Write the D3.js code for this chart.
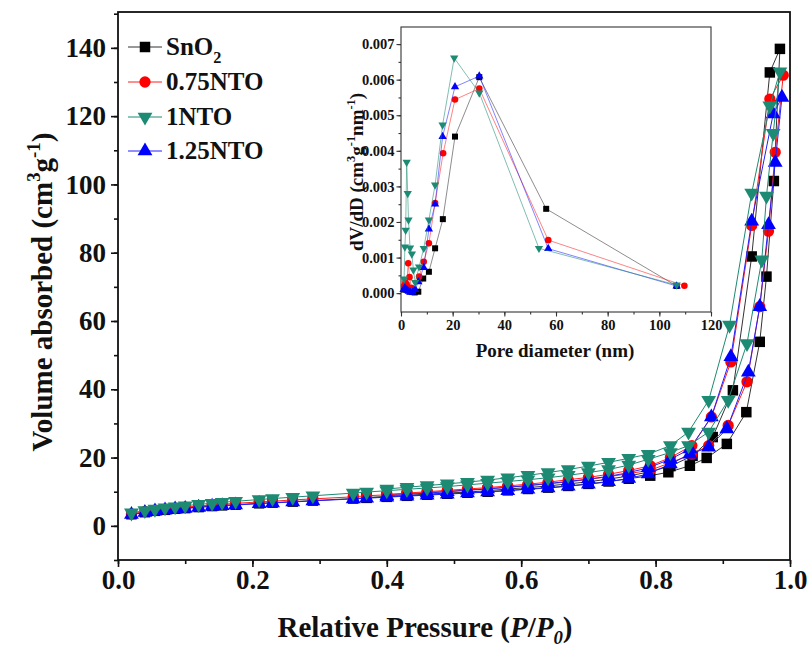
<!DOCTYPE html>
<html>
<head>
<meta charset="utf-8">
<script src="https://cdn.jsdelivr.net/npm/d3@7"></script>
<style>
body { margin: 0; background: #fff; }
svg { display: block; }
text { font-family: "Liberation Serif", "Times New Roman", serif; font-weight: bold; fill: #111; }
</style>
</head>
<body>
<svg id="chart"></svg>
<script>
// ---------------- data: N2 isotherms (P/P0, cm3/g) ----------------
// adsorption pressures shared below 0.79
const lowP = [0.02, 0.04, 0.055, 0.07, 0.085, 0.10, 0.12, 0.14, 0.155, 0.175, 0.21, 0.23, 0.26, 0.29,
  0.35, 0.37, 0.40, 0.43, 0.46, 0.49, 0.52, 0.55, 0.58, 0.61, 0.64, 0.67, 0.70, 0.73, 0.76];

const sno2AdsP = lowP.concat([0.792, 0.819, 0.851, 0.876, 0.906, 0.935, 0.955, 0.965, 0.976, 0.985]);
const sno2AdsV = [3.4, 4.0, 4.4, 4.7, 5.0, 5.2, 5.5, 5.8, 6.0, 6.2, 6.6, 6.8, 7.1, 7.4, 8.0, 8.2, 8.5, 8.8, 9.1, 9.4,
  9.7, 10.0, 10.4, 10.8, 11.2, 11.7, 12.3, 13.0, 13.8, 14.7, 15.7, 17.6, 19.9, 24.0, 33.3, 53.9, 73.0, 101.0, 139.7];
const sno2DesP = [0.970, 0.943, 0.915, 0.885, 0.855, 0.822, 0.79, 0.76, 0.73, 0.70, 0.67, 0.64, 0.61, 0.58, 0.55, 0.52, 0.49, 0.46, 0.43, 0.40, 0.37];
const sno2DesV = [132.8, 78.9, 39.7, 26.0, 20.5, 17.5, 15.8, 14.6, 13.7, 12.9, 12.3, 11.7, 11.2, 10.8, 10.3, 9.9, 9.6, 9.3, 8.9, 8.6, 8.3];

const nto075AdsP = lowP.concat([0.792, 0.822, 0.854, 0.879, 0.908, 0.936, 0.955, 0.968, 0.978, 0.990]);
const nto075AdsV = [3.5, 4.2, 4.6, 4.9, 5.2, 5.5, 5.8, 6.1, 6.3, 6.6, 7.0, 7.2, 7.6, 7.9, 8.5, 8.8, 9.1, 9.4, 9.8, 10.1,
  10.5, 10.9, 11.3, 11.8, 12.3, 12.9, 13.6, 14.4, 15.3, 16.3, 18.5, 21.0, 23.5, 29.4, 42.2, 64.2, 86.3, 109.4, 132.0];
const nto075DesP = [0.970, 0.943, 0.912, 0.883, 0.854, 0.822, 0.792, 0.76, 0.73, 0.70, 0.67, 0.64, 0.61, 0.58, 0.55, 0.52, 0.49, 0.46, 0.43, 0.40];
const nto075DesV = [125.0, 88.0, 48.0, 31.9, 23.5, 20.0, 17.6, 16.2, 15.1, 14.2, 13.5, 12.8, 12.2, 11.7, 11.2, 10.8, 10.4, 10.0, 9.6, 9.2];

const nto1AdsP = lowP.concat([0.789, 0.822, 0.849, 0.879, 0.908, 0.936, 0.958, 0.965, 0.975, 0.985]);
const nto1AdsV = [3.8, 4.5, 4.9, 5.3, 5.6, 5.9, 6.3, 6.6, 6.9, 7.2, 7.7, 8.0, 8.4, 8.8, 9.6, 9.9, 10.3, 10.7, 11.1, 11.5,
  12.0, 12.5, 13.0, 13.5, 14.1, 14.8, 15.6, 16.5, 17.8, 19.5, 21.5, 23.5, 27.5, 36.8, 53.4, 77.9, 96.6, 115.0, 133.0];
const nto1DesP = [0.970, 0.943, 0.910, 0.879, 0.849, 0.822, 0.789, 0.76, 0.73, 0.70, 0.67, 0.64, 0.61, 0.58, 0.55, 0.52, 0.49, 0.46, 0.43, 0.40];
const nto1DesV = [123.0, 97.5, 58.8, 36.8, 27.5, 23.5, 21.0, 19.8, 18.6, 17.5, 16.5, 15.6, 14.8, 14.1, 13.4, 12.8, 12.3, 11.8, 11.3, 10.8];

const nto125AdsP = lowP.concat([0.789, 0.822, 0.851, 0.879, 0.906, 0.938, 0.955, 0.968, 0.978, 0.988]);
const nto125AdsV = [3.3, 3.9, 4.3, 4.6, 4.9, 5.1, 5.4, 5.7, 5.9, 6.1, 6.5, 6.7, 7.0, 7.3, 7.9, 8.1, 8.4, 8.7, 9.0, 9.3,
  9.6, 9.9, 10.3, 10.7, 11.1, 11.6, 12.2, 12.9, 13.9, 15.2, 18.1, 21.0, 23.0, 28.4, 45.0, 64.2, 88.2, 106.4, 125.5];
const nto125DesP = [0.975, 0.943, 0.912, 0.883, 0.851, 0.822, 0.789, 0.76, 0.73, 0.70, 0.67, 0.64, 0.61, 0.58, 0.55, 0.52, 0.49, 0.46, 0.43, 0.40];
const nto125DesV = [120.6, 89.2, 49.5, 31.9, 22.5, 19.5, 17.0, 15.6, 14.5, 13.7, 13.0, 12.4, 11.8, 11.3, 10.8, 10.4, 10.0, 9.6, 9.2, 8.8];

// ---------------- data: pore size distribution (nm, cm3 g-1 nm-1) ----------------
const sno2D = [1.2, 1.7, 2.2, 2.8, 3.5, 4.3, 5.3, 6.7, 8.6, 10.8, 13.2, 16.2, 20.9, 30.3, 56.2, 106.7];
const sno2dV = [0.0001, 0.00015, 0.0001, 0.00008, 0.00005, 0.00003, 0.00002, 0.00004, 0.00041, 0.0006, 0.00126, 0.00208, 0.0044, 0.00607, 0.00237, 0.0002];
const nto075D = [1.2, 1.7, 2.2, 2.8, 3.3, 4.0, 5.0, 7.0, 8.8, 10.8, 13.2, 16.3, 20.9, 30.3, 57.0, 109.7];
const nto075dV = [0.0002, 0.0003, 0.00025, 0.00084, 0.00045, 0.00015, 0.0001, 0.00047, 0.00088, 0.0014, 0.00253, 0.00393, 0.00544, 0.00575, 0.00149, 0.00021];
const nto1D = [1.2, 1.5, 1.8, 2.2, 2.6, 2.9, 3.5, 4.2, 4.8, 5.5, 7.0, 8.8, 10.8, 13.2, 16.1, 20.6, 30.3, 53.4, 106.7];
const nto1dV = [0.0004, 0.0013, 0.00177, 0.00368, 0.0028, 0.00206, 0.00127, 0.0011, 0.00065, 0.0003, 0.00074, 0.00126, 0.00206, 0.00304, 0.00473, 0.00661, 0.00563, 0.00126, 0.00023];
const nto125D = [1.0, 1.5, 2.0, 2.5, 3.0, 3.6, 4.5, 5.5, 6.7, 8.8, 10.8, 13.2, 16.1, 20.9, 30.3, 57.0, 106.7];
const nto125dV = [0.0001, 0.00015, 0.0001, 0.00008, 0.00005, 0.00002, 0.00003, 0.0001, 0.00032, 0.00072, 0.0018, 0.0025, 0.0044, 0.0058, 0.0061, 0.00125, 0.0002];

const mainYTicks = [0, 20, 40, 60, 80, 100, 120, 140];
const mainXTicks = [0, 0.2, 0.4, 0.6, 0.8, 1.0];
const insetYTicks = [0, 0.001, 0.002, 0.003, 0.004, 0.005, 0.006, 0.007];
const insetXTicks = [0, 20, 40, 60, 80, 100, 120];

// ---------------------------------------------------------------
const width = 807;
const height = 648;
const svg = d3.select('#chart').attr('width', width).attr('height', height);

const teal = '#1d8a73';
const series = [
  { label: [['SnO', ''], ['2', 'sub']], color: '#000', line: '#333', sym: d3.symbolSquare, rot: 0, size: 110, isize: 36,
    P: sno2AdsP.concat(sno2DesP), V: sno2AdsV.concat(sno2DesV), D: sno2D, dV: sno2dV },
  { label: [['0.75NTO', '']], color: '#ff0000', line: '#ff2020', sym: d3.symbolCircle, rot: 0, size: 100, isize: 34,
    P: nto075AdsP.concat(nto075DesP), V: nto075AdsV.concat(nto075DesV), D: nto075D, dV: nto075dV },
  { label: [['1NTO', '']], color: teal, line: teal, sym: d3.symbolTriangle, rot: 180, size: 95, isize: 30,
    P: nto1AdsP.concat(nto1DesP), V: nto1AdsV.concat(nto1DesV), D: nto1D, dV: nto1dV },
  { label: [['1.25NTO', '']], color: '#0000ff', line: '#2020ff', sym: d3.symbolTriangle, rot: 0, size: 95, isize: 30,
    P: nto125AdsP.concat(nto125DesP), V: nto125AdsV.concat(nto125DesV), D: nto125D, dV: nto125dV }
];
// draw order: black, red, blue, teal
const drawOrder = [0, 1, 3, 2];

// text with sub / superscripts
function richText(t, parts, size, subShift) {
  let shift = 0;
  parts.forEach(function(p) {
    const kind = p[1];
    const ts = t.append('tspan').text(p[0]);
    let target = 0;
    if (kind === 'sup') target = -0.42 * size;
    if (kind === 'sub' || kind === 'isub') target = (subShift || 0.32) * size;
    ts.attr('dy', target - shift);
    shift = target;
    if (kind === 'sup' || kind === 'sub' || kind === 'isub') ts.attr('font-size', size * 0.65);
    if (kind === 'i' || kind === 'isub') ts.attr('font-style', 'italic');
  });
}

function styleAxis(g, size, color, width) {
  g.select('.domain').remove();
  g.selectAll('line').attr('stroke', color).attr('stroke-width', width);
  g.selectAll('text').attr('font-size', size).attr('fill', '#111')
    .style('font-family', '"Liberation Serif", serif').style('font-weight', 'bold');
}

// ---------------------------- main plot ----------------------------
const x = d3.scaleLinear().domain([0, 1]).range([118, 790]);
const y = d3.scaleLinear().domain([-10, 150.5]).range([560, 12]);

const gYminor = svg.append('g').attr('transform', 'translate(118,0)')
  .call(d3.axisLeft(y).tickValues(d3.range(-10, 151, 10)).tickSize(4).tickFormat(''));
const gY = svg.append('g').attr('transform', 'translate(118,0)')
  .call(d3.axisLeft(y).tickValues(mainYTicks).tickSize(7).tickPadding(5).tickFormat(d3.format('d')));
const gXminor = svg.append('g').attr('transform', 'translate(0,560)')
  .call(d3.axisBottom(x).tickValues(d3.range(0, 1.01, 0.1)).tickSize(4).tickFormat(''));
const gX = svg.append('g').attr('transform', 'translate(0,560)')
  .call(d3.axisBottom(x).tickValues(mainXTicks).tickSize(7).tickPadding(3).tickFormat(d3.format('.1f')));

[gYminor, gY, gXminor, gX].forEach(g => styleAxis(g, 27, '#111', 1.6));

svg.append('rect').attr('x', 118).attr('y', 12).attr('width', 672).attr('height', 548)
  .attr('fill', 'none').attr('stroke', '#111').attr('stroke-width', 1.8);

const line = d3.line().x(d => x(d[0])).y(d => y(d[1]));
drawOrder.forEach(function(i) {
  const s = series[i];
  const pts = s.P.map((p, k) => [p, s.V[k]]);
  svg.append('path').datum(pts).attr('d', line)
    .attr('fill', 'none').attr('stroke', s.line).attr('stroke-width', 1);
  svg.append('g').selectAll('path').data(pts).enter().append('path')
    .attr('d', d3.symbol().type(s.sym).size(s.size))
    .attr('transform', d => 'translate(' + x(d[0]) + ',' + y(d[1]) + ') rotate(' + s.rot + ')')
    .attr('fill', s.color);
});

// axis titles
const yt = svg.append('text').attr('transform', 'translate(52,292) rotate(-90)')
  .attr('text-anchor', 'middle').attr('font-size', 29);
richText(yt, [['Volume absorbed (cm', ''], ['3', 'sup'], ['g', ''], ['-1', 'sup'], [')', '']], 29);

const xt = svg.append('text').attr('x', 425).attr('y', 637)
  .attr('text-anchor', 'middle').attr('font-size', 29);
richText(xt, [['Relative Pressure (', ''], ['P', 'i'], ['/', ''], ['P', 'i'], ['0', 'isub'], [')', '']], 29, 0.24);

// legend
const legendY = [47, 82, 117, 151];
series.forEach(function(s, i) {
  const g = svg.append('g').attr('transform', 'translate(0,' + legendY[i] + ')');
  g.append('line').attr('x1', 128).attr('x2', 162).attr('y1', 0).attr('y2', 0)
    .attr('stroke', s.line).attr('stroke-width', 1);
  g.append('path').attr('d', d3.symbol().type(s.sym).size(s.size))
    .attr('transform', 'translate(145,0) rotate(' + s.rot + ')').attr('fill', s.color);
  const t = g.append('text').attr('x', 166).attr('y', 8).attr('font-size', 25);
  richText(t, s.label, 25);
});

// ---------------------------- inset ----------------------------
const ix = d3.scaleLinear().domain([0, 120]).range([401, 711]);
const iy = d3.scaleLinear().domain([-0.00053, 0.00748]).range([312, 27]);

svg.append('rect').attr('x', 401).attr('y', 27).attr('width', 310).attr('height', 285)
  .attr('fill', '#fff').attr('stroke', 'none');

const iYminor = svg.append('g').attr('transform', 'translate(401,0)')
  .call(d3.axisLeft(iy).tickValues(d3.range(0, 0.0075, 0.0005)).tickSize(2.5).tickFormat(''));
const iY = svg.append('g').attr('transform', 'translate(401,0)')
  .call(d3.axisLeft(iy).tickValues(insetYTicks).tickSize(4.5).tickPadding(2).tickFormat(d3.format('.3f')));
const iXminor = svg.append('g').attr('transform', 'translate(0,312)')
  .call(d3.axisBottom(ix).tickValues(d3.range(0, 121, 10)).tickSize(2.5).tickFormat(''));
const iX = svg.append('g').attr('transform', 'translate(0,312)')
  .call(d3.axisBottom(ix).tickValues(insetXTicks).tickSize(4.5).tickPadding(3).tickFormat(d3.format('d')));

[iYminor, iY, iXminor, iX].forEach(g => styleAxis(g, 14.5, '#333', 1.1));

svg.append('rect').attr('x', 401).attr('y', 27).attr('width', 310).attr('height', 285)
  .attr('fill', 'none').attr('stroke', '#333').attr('stroke-width', 1.1);

const iline = d3.line().x(d => ix(d[0])).y(d => iy(d[1]));
drawOrder.forEach(function(i) {
  const s = series[i];
  const pts = s.D.map((d, k) => [d, s.dV[k]]);
  svg.append('path').datum(pts).attr('d', iline)
    .attr('fill', 'none').attr('stroke', s.line).attr('stroke-width', 0.7).attr('stroke-opacity', 0.8);
  svg.append('g').selectAll('path').data(pts).enter().append('path')
    .attr('d', d3.symbol().type(s.sym).size(s.isize))
    .attr('transform', d => 'translate(' + ix(d[0]) + ',' + iy(d[1]) + ') rotate(' + s.rot + ')')
    .attr('fill', s.color);
});

const iyt = svg.append('text').attr('transform', 'translate(363,172) rotate(-90)')
  .attr('text-anchor', 'middle').attr('font-size', 19);
richText(iyt, [['dV/dD (cm', ''], ['3', 'sup'], ['g', ''], ['-1', 'sup'], ['nm', ''], ['-1', 'sup'], [')', '']], 19);

svg.append('text').attr('x', 555).attr('y', 357).attr('text-anchor', 'middle')
  .attr('font-size', 19).text('Pore diameter (nm)');
</script>
</body>
</html>
